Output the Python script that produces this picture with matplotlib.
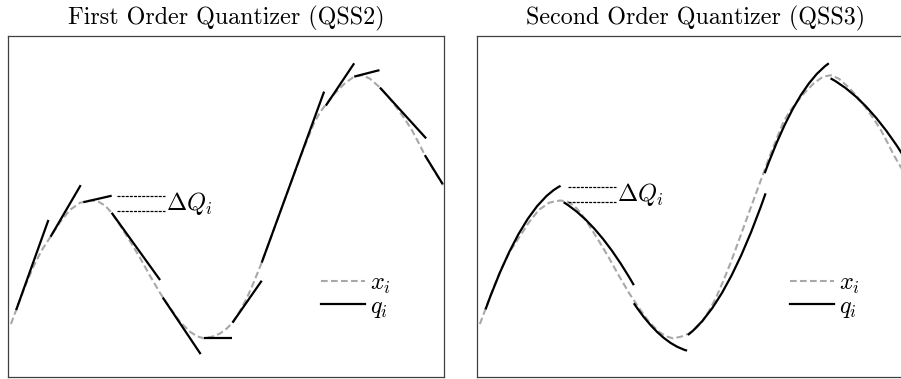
import numpy as np
import matplotlib
matplotlib.use('Agg')
import matplotlib.pyplot as plt
from matplotlib.path import Path
from matplotlib.patches import PathPatch

plt.rcParams['font.family'] = 'serif'
plt.rcParams['font.serif'] = ['cmr10']
plt.rcParams['mathtext.fontset'] = 'cm'
plt.rcParams['axes.unicode_minus'] = False

# state trajectory x_i(t)
t_x = [0.06, 0.18, 0.38, 0.57, 0.77, 0.97, 1.19, 1.41, 1.64, 1.76,
       1.90, 2.06, 2.22, 2.37, 2.56, 2.79, 3.02, 3.25, 3.48, 3.71,
       3.94, 4.17, 4.33, 4.49, 4.67, 4.85, 5.01, 5.14, 5.31, 5.47,
       5.63, 5.81, 6.00, 6.23, 6.46, 6.69, 6.85, 7.01, 7.15, 7.28,
       7.49, 7.72, 7.93, 8.11, 8.29, 8.52, 8.70, 8.90, 9.09, 9.25,
       9.40, 9.55, 9.71, 9.97]
x_vals = [1.56, 1.97, 2.65, 3.23, 3.73, 4.12, 4.55, 4.90, 5.11, 5.15,
          5.18, 5.15, 5.03, 4.82, 4.46, 3.99, 3.50, 2.97, 2.47, 2.03,
          1.62, 1.33, 1.20, 1.14, 1.19, 1.28, 1.43, 1.60, 1.94, 2.32,
          2.79, 3.36, 4.02, 4.83, 5.63, 6.43, 6.95, 7.45, 7.77, 7.99,
          8.32, 8.62, 8.81, 8.85, 8.75, 8.49, 8.24, 7.91, 7.57, 7.25,
          6.89, 6.51, 6.16, 5.63]

# QSS2: piecewise linear quantized trajectory q_i
qss2_t0 = [0.18, 0.97, 1.72, 2.37, 3.54, 4.49, 5.14, 5.81, 7.28, 7.93, 8.52, 9.55]
qss2_t1 = [0.92, 1.66, 2.37, 3.48, 4.41, 5.12, 5.81, 7.24, 7.93, 8.51, 9.58, 9.96]
qss2_q0 = [1.97, 4.12, 5.13, 4.82, 2.34, 1.14, 1.60, 3.36, 7.96, 8.81, 8.49, 6.51]
qss2_q1 = [4.61, 5.63, 5.32, 2.85, 0.68, 1.14, 2.83, 8.37, 9.20, 9.00, 7.00, 5.66]

# QSS3: piecewise parabolic q_i (start, tangent crossing, end)
qss3_t0 = [0.19, 1.98, 3.59, 4.83, 6.59, 8.10]
qss3_t1 = [1.91, 3.59, 4.81, 6.61, 8.06, 9.96]
qss3_q0 = [1.99, 5.13, 2.17, 1.24, 5.98, 8.76]
qss3_qc = [5.05, 4.50, 1.00, 2.12, 8.55, 8.12]
qss3_q1 = [5.61, 2.70, 0.78, 5.39, 9.20, 6.09]

# Delta Q marker: (t_start, t_end, upper, lower)
dq_left = [2.50, 3.59, 5.31, 4.88]
dq_right = [2.08, 3.17, 5.59, 5.14]

gray = '#a8a8a8'
xdash = (0, (3.2, 1.6))

fig = plt.figure(figsize=(9.01, 3.79), dpi=100)
ax1 = fig.add_axes([0.0092, 0.0045, 0.4841, 0.9005])
ax2 = fig.add_axes([0.5297, 0.0045, 0.4841, 0.9005])

for ax in (ax1, ax2):
    ax.set_xlim(0, 10)
    ax.set_ylim(0, 10)
    ax.set_xticks([])
    ax.set_yticks([])
    for sp in ax.spines.values():
        sp.set_color('#404040')
        sp.set_linewidth(0.9)
    ax.plot(t_x, x_vals, color=gray, lw=1.5, linestyle=xdash,
            label=r'$x_i$', zorder=2)

# first order
for a, b, qa, qb in zip(qss2_t0, qss2_t1, qss2_q0, qss2_q1):
    ax1.plot([a, b], [qa, qb], color='black', lw=1.6,
             solid_capstyle='butt', zorder=3)

# second order
for a, b, qa, qc, qb in zip(qss3_t0, qss3_t1, qss3_q0, qss3_qc, qss3_q1):
    p = Path([(a, qa), ((a + b) / 2, qc), (b, qb)],
             [Path.MOVETO, Path.CURVE3, Path.CURVE3])
    ax2.add_patch(PathPatch(p, fill=False, ec='black', lw=1.6,
                            capstyle='butt', zorder=3))

for ax, dq in ((ax1, dq_left), (ax2, dq_right)):
    for yy in dq[2:]:
        ax.plot([dq[0], dq[1]], [yy, yy], color='black', lw=0.9,
                linestyle=(0, (2.4, 0.9)), zorder=3)
    ax.text(dq[1] + 0.03, (dq[2] + dq[3]) / 2, r'$\Delta Q_i$',
            fontsize=17.5, ha='left', va='center')
    ax.plot([], [], color='black', lw=1.6, label=r'$q_i$')
    ax.legend(loc='center left', bbox_to_anchor=(0.69, 0.238),
              frameon=False, fontsize=17.5, handlelength=1.8,
              handletextpad=0.2, labelspacing=0.0, borderpad=0)

ax1.set_title('First Order Quantizer (QSS2)', fontsize=17.3, pad=8)
ax2.set_title('Second Order Quantizer (QSS3)', fontsize=17.3, pad=8)

fig.savefig('out.png', dpi=100)
